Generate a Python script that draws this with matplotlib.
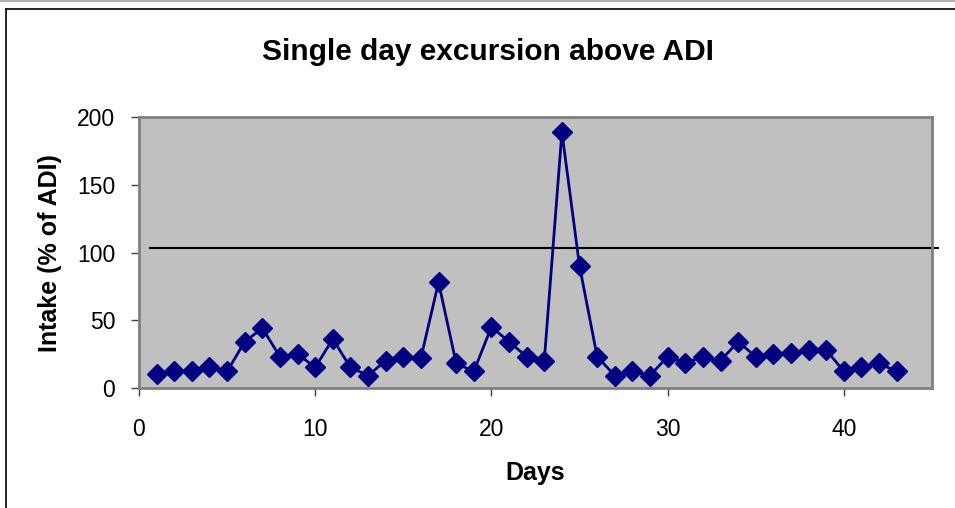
import matplotlib
matplotlib.use("Agg")
import matplotlib.pyplot as plt
from matplotlib.lines import Line2D

days = list(range(1, 44))
intake = [10, 12, 12, 15, 12, 34, 44, 23, 25, 15,
          36, 15, 9, 20, 23, 22, 78, 18, 12, 45,
          34, 23, 20, 189, 90, 23, 9, 12, 9, 23,
          18, 23, 20, 34, 23, 25, 26, 28, 28, 12,
          15, 18, 12]
adi_level = 103
title = "Single day excursion above ADI"
xlabel = "Days"
ylabel = "Intake (% of ADI)"
xticks = [0, 10, 20, 30, 40]
yticks = [0, 50, 100, 150, 200]

plt.rcParams['font.family'] = ['Liberation Sans', 'DejaVu Sans']

fig = plt.figure(figsize=(9.55, 5.08), dpi=100)
ax = fig.add_axes([0.1455, 0.2368, 0.8304, 0.5323])
ax.set_facecolor('#C0C0C0')

ax.plot(days, intake, color='#000080', lw=2, marker='D', markersize=10.5,
        markerfacecolor='#000080', markeredgecolor='#000080', zorder=3,
        clip_on=False)
ax.plot([0.6, 45.35], [adi_level, adi_level], color='black', lw=1.5,
        clip_on=False, zorder=2)

ax.set_xlim(0, 45)
ax.set_ylim(0, 200)
ax.set_xticks(xticks)
ax.set_yticks(yticks)
ax.tick_params(axis='both', labelsize=16.5, length=6, width=1, color='#404040',
               direction='out')
ax.tick_params(axis='x', pad=16)
ax.tick_params(axis='y', pad=11)
for s in ax.spines.values():
    s.set_color('#808080')
    s.set_linewidth(2)

fig.text(488 / 955, 1 - 52 / 508, title, fontsize=21.5, fontweight='bold',
         ha='center', va='center')
fig.text(535 / 955, 1 - 473 / 508, xlabel, fontsize=18, fontweight='bold',
         ha='center', va='center')
fig.text(50 / 955, 1 - 253 / 508, ylabel, fontsize=18, fontweight='bold',
         ha='center', va='center', rotation=90)

# chart border
fig.add_artist(Line2D([0.0058, 1.0], [0.9813, 0.9813], color='black', lw=1.2,
                      transform=fig.transFigure))
fig.add_artist(Line2D([0.0058, 0.0058], [0.0, 0.9813], color='black', lw=1.2,
                      transform=fig.transFigure))
fig.add_artist(Line2D([0.0, 1.0], [0.999, 0.999], color='#B0B0B0', lw=1.5,
                      transform=fig.transFigure))

fig.savefig('out.png', dpi=100)
